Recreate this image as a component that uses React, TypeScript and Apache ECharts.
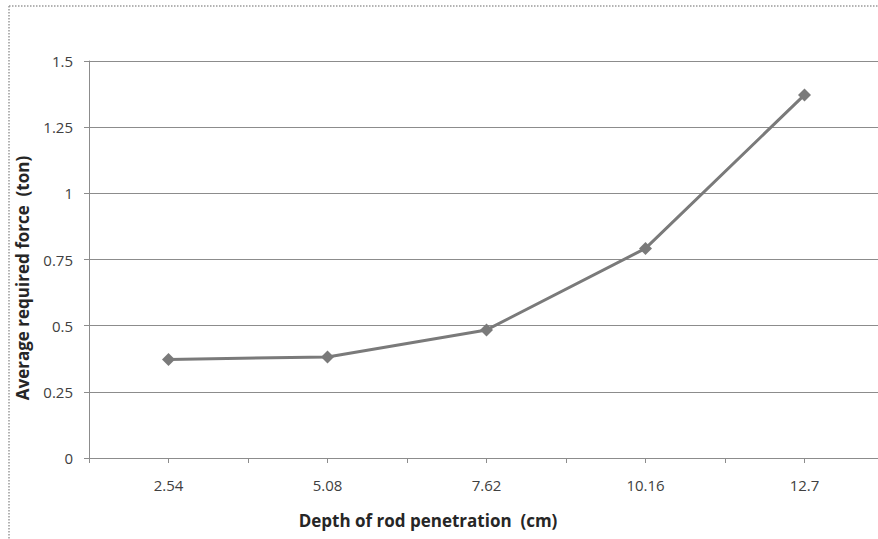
import React, { useEffect, useRef } from "react";
import * as echarts from "echarts";

const depths = [2.54, 5.08, 7.62, 10.16, 12.7];
const forces = [0.372, 0.382, 0.484, 0.792, 1.372];
const yTicks = { min: 0, max: 1.5, step: 0.25 };
const xTitle = "Depth of rod penetration  (cm)";
const yTitle = "Average required force  (ton)";

const FONT = "'Open Sans', sans-serif";

export default function App() {
  const ref = useRef<HTMLDivElement>(null);
  useEffect(() => {
    if (!ref.current) return;
    const chart = echarts.init(ref.current, undefined, { renderer: "svg" });
    const half = 1.27;
    chart.setOption({
      animation: false,
      backgroundColor: "#ffffff",
      grid: { left: 89, top: 61, right: 6, bottom: 81 },
      xAxis: {
        type: "value",
        min: half,
        max: half * 11,
        interval: half,
        axisLine: { show: true, onZero: false, lineStyle: { color: "#8c8c8c", width: 1 } },
        axisTick: { show: true, length: 5, lineStyle: { color: "#8c8c8c" } },
        splitLine: { show: false },
        axisLabel: {
          margin: 19,
          color: "#404040",
          fontSize: 15,
          fontFamily: FONT,
          showMinLabel: true,
          showMaxLabel: true,
          formatter: (v: number) => {
            const k = Math.round(v / half);
            if (k % 2 !== 0) return "";
            return String(parseFloat(v.toFixed(2)));
          },
        },
      },
      yAxis: {
        type: "value",
        min: yTicks.min,
        max: yTicks.max,
        interval: yTicks.step,
        axisLine: { show: true, lineStyle: { color: "#8c8c8c", width: 1 } },
        axisTick: { show: true, length: 5, lineStyle: { color: "#8c8c8c" } },
        splitLine: { show: true, lineStyle: { color: "#8c8c8c", width: 1 } },
        axisLabel: {
          margin: 16,
          color: "#404040",
          fontSize: 15,
          fontFamily: FONT,
        },
      },
      series: [
        {
          type: "line",
          data: depths.map((d, i) => [d, forces[i]]),
          symbol: "diamond",
          symbolSize: 13,
          lineStyle: { color: "#7a7a7a", width: 3 },
          itemStyle: { color: "#7a7a7a" },
        },
      ],
      graphic: [
        {
          type: "line",
          shape: { x1: 9, y1: 6, x2: 9, y2: 539 },
          style: { stroke: "#9a9a9a", lineWidth: 1.5, lineDash: [1.5, 1.5] },
        },
        {
          type: "line",
          shape: { x1: 9, y1: 6, x2: 890, y2: 6 },
          style: { stroke: "#9a9a9a", lineWidth: 1.5, lineDash: [1.5, 1.5] },
        },
        {
          type: "text",
          x: 428,
          y: 520,
          style: {
            text: xTitle,
            fill: "#262626",
            font: `bold 17px ${FONT}`,
            textAlign: "center",
            textVerticalAlign: "middle",
          },
        },
        {
          type: "text",
          x: 22,
          y: 278,
          rotation: Math.PI / 2,
          style: {
            text: yTitle,
            fill: "#262626",
            font: `bold 17px ${FONT}`,
            textAlign: "center",
            textVerticalAlign: "middle",
          },
        },
      ],
    });
    return () => chart.dispose();
  }, []);
  return (
    <div style={{ position: "absolute", left: 0, top: 0, width: 878, height: 539, overflow: "hidden", background: "#fff" }}>
      <div ref={ref} style={{ width: 890, height: 539 }} />
    </div>
  );
}
